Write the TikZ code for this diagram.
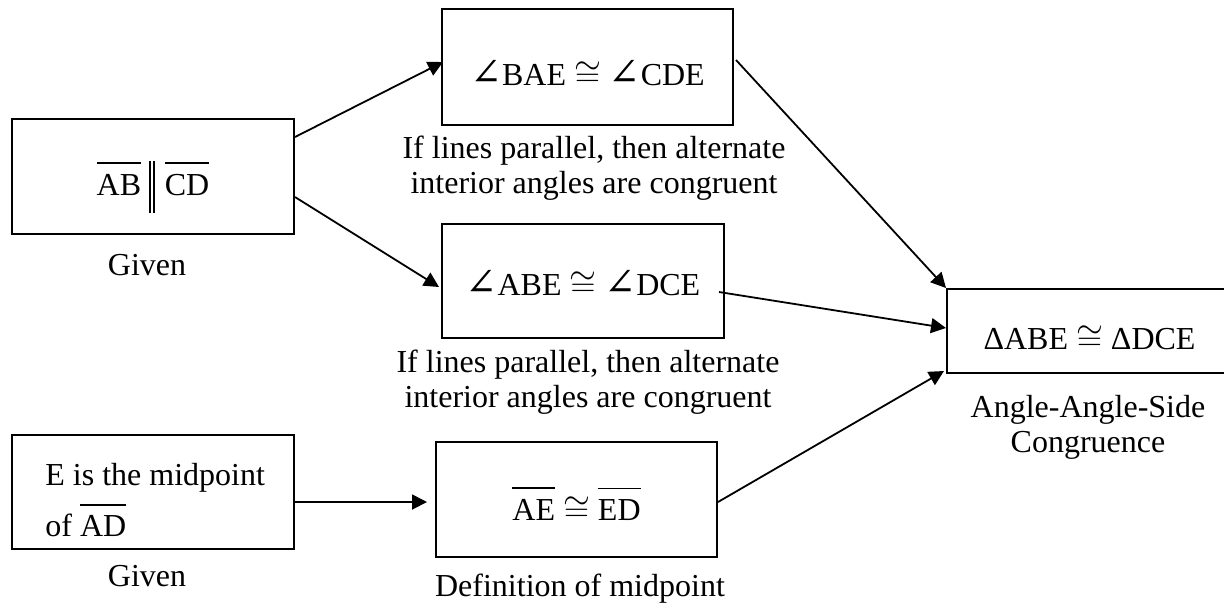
\documentclass[tikz,border=0pt]{standalone}
\usepackage{fontspec}
\setmainfont{Liberation Serif}
\newfontfamily\symf{DejaVu Serif}
\usetikzlibrary{arrows.meta}
\newcommand\ovl[1]{\vbox{\hrule height 0.7pt\kern 5pt\hbox{#1}}}
\newcommand\pll{\hspace{4pt}\rule[-9pt]{0.75pt}{26pt}\hspace{1.3pt}\rule[-9pt]{0.75pt}{26pt}\hspace{5pt}}
\newcommand\ang{{\symf\fontsize{19}{19}\selectfont ∠}}
\begin{document}
\begin{tikzpicture}[x=0.5pt,y=-0.5pt,
  font=\fontsize{16}{17.5}\selectfont,
  box/.style={draw,line width=1pt,inner sep=0pt,text depth=0pt},
  captxt/.style={align=center,inner sep=0pt},
  arr/.style={line width=0.9pt,-{Triangle[length=7.5pt,width=7.5pt]}}]
\useasboundingbox (0,0) rectangle (1224,602);

% boxes
\node[box,minimum width=141pt,minimum height=57.5pt,text height=18.5pt] (B1) at (153,176.5) {\ovl{AB}\pll\ovl{CD}};
\node[box,minimum width=145.5pt,minimum height=58pt,text height=18pt] (B2) at (587.5,67) {\ang BAE $\cong$ \ang CDE};
\node[box,minimum width=141pt,minimum height=57pt,text height=14pt] (B3) at (583,281) {\ang ABE $\cong$ \ang DCE};
\node[box,minimum width=142.5pt,minimum height=42pt,text height=18pt] (B4) at (1089.5,331) {ΔABE $\cong$ ΔDCE};
\node[box,minimum width=141pt,minimum height=57pt] (B5) at (153,492) {};
\node[align=left,anchor=north west,inner sep=0pt] (T5) at (45,463) {E is the midpoint\\[5pt]of \ovl{AD}};
\node[box,minimum width=140.5pt,minimum height=57.5pt,text height=20.5pt] (B6) at (576.5,499.5) {\ovl{AE} $\cong$ \ovl{ED}};

% captions
\node[anchor=base] (G1) at (147,275) {Given};
\node[captxt,anchor=north] (C2) at (594,136) {If lines parallel, then alternate\\interior angles are congruent};
\node[captxt,anchor=north] (C3) at (588,350) {If lines parallel, then alternate\\interior angles are congruent};
\node[captxt,anchor=north] (C4) at (1088,395) {Angle-Angle-Side\\Congruence};
\node[anchor=base] (G5) at (147,586) {Given};
\node[anchor=base] (C6) at (580,596) {Definition of midpoint};

% connectors
\draw[arr] ([yshift=19.75pt]B1.east) -- ([xshift=1pt,yshift=2.5pt]B2.west);
\draw[arr] ([yshift=-10.25pt]B1.east) -- ([xshift=-1pt,yshift=-3pt]B3.west);
\draw[arr] ([xshift=1pt,yshift=3.5pt]B2.east) -- (B4.north west);
\draw[arr] ([xshift=-3pt,yshift=-5.5pt]B3.east) -- ([yshift=1.5pt]B4.west);
\draw[arr] ([yshift=-5pt]B5.east) -- ([xshift=-4pt,yshift=-1.25pt]B6.west);
\draw[arr] ([yshift=-1.25pt]B6.east) -- ([xshift=-1pt,yshift=1.5pt]B4.south west);
\end{tikzpicture}
\end{document}
